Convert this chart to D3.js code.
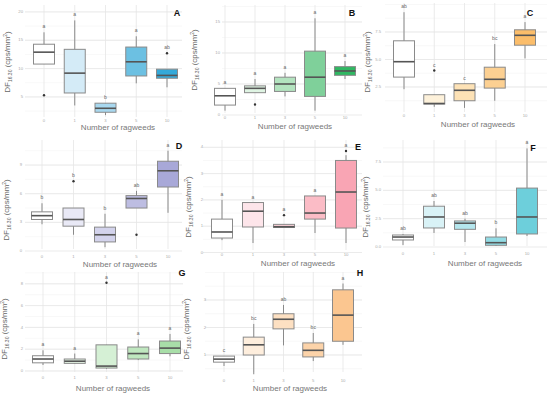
<!DOCTYPE html>
<html>
<head>
<meta charset="utf-8">
<script src="https://cdn.jsdelivr.net/npm/d3@7"></script>
<style>
  body { margin:0; background:#fff; }
  svg text { font-family: "Liberation Sans", Arial, sans-serif; }
</style>
</head>
<body>
<svg width="550" height="398"></svg>
<script>
// groups on x axis
const categories = ["0", "1", "3", "5", "10"]

// box stats per group: [lower whisker, q1, median, q3, upper whisker]
const statsA = [[10.8,10.8,12.9,14.3,16.4],[3.5,5.7,9.2,13.4,18.5],[1.8,2.3,3.0,3.9,3.9],[7.4,8.7,11.2,13.8,15.7],[6.7,8.3,8.8,9.9,9.9]]
const statsB = [[0.7,1.6,3.1,4.3,4.3],[3.6,3.6,4.3,4.7,5.8],[3.0,3.8,5.0,6.1,6.8],[0.7,3.0,6.1,10.3,15.6],[5.8,6.4,7.1,7.8,8.7]]
const statsC = [[2.3,3.4,4.8,6.7,9.3],[0.7,0.95,1.0,1.8,1.8],[0.6,1.25,2.2,2.8,2.8],[1.25,2.4,3.2,4.3,6.4],[5.1,6.3,7.2,7.7,8.4]]
const statsD = [[2.8,3.3,3.7,4.1,5.0],[1.7,2.6,3.3,4.5,4.5],[0.4,0.95,1.7,2.5,3.9],[4.5,4.5,5.5,5.8,6.3],[4.0,6.7,8.4,9.4,10.5]]
const statsE = [[0.47,0.55,0.78,1.27,2.0],[0.36,0.97,1.57,1.9,1.9],[0.95,0.95,0.98,1.07,1.07],[0.74,1.27,1.5,2.15,2.15],[0.36,0.93,2.3,3.5,3.7]]
const statsF = [[0.18,0.62,0.88,1.06,1.15],[1.24,1.68,2.65,3.6,4.06],[0.44,1.56,2.1,2.3,2.5],[0.1,0.15,0.38,0.88,1.65],[0.97,1.15,2.65,5.2,8.7]]
const statsG = [[0.55,0.75,1.1,1.4,1.9],[0.65,0.7,0.9,1.1,1.6],[0.2,0.27,0.45,2.4,2.4],[1.0,1.1,1.6,2.2,2.9],[1.35,1.6,2.1,2.75,3.4]]
const statsH = [[0.6,0.74,0.85,0.96,0.96],[0.3,1.0,1.37,1.65,2.13],[1.35,1.95,2.3,2.5,2.82],[0.78,0.93,1.17,1.44,1.8],[1.37,1.5,2.45,3.37,3.6]]

// outliers: [group index, value]
const outA = [[0,5.3],[4,12.7]]
const outB = [[1,1.7]]
const outC = [[1,4.0]]
const outD = [[1,7.3],[3,1.7]]
const outE = [[2,1.42],[4,3.86]]
const outF = []
const outG = [[2,8.1]]
const outH = []

// significance letters
const lettersA = ["a","a","b","a","ab"]
const lettersB = ["a","a","a","a","a"]
const lettersC = ["ab","c","c","bc","a"]
const lettersD = ["b","b","b","ab","a"]
const lettersE = ["a","a","a","a","a"]
const lettersF = ["ab","ab","ab","b","a"]
const lettersG = ["a","a","a","a","a"]
const lettersH = ["c","bc","ab","bc","a"]

// y tick values
const ticksA = [5,10,15,20]
const ticksB = [0,5,10,15]
const ticksC = [2.5,5.0,7.5]
const ticksD = [0,3,6,9]
const ticksE = [0,1,2,3,4]
const ticksF = [0,2.5,5.0,7.5]
const ticksG = [0,2,4,6,8]
const ticksH = [1,2,3]

const fillsA = ["#ffffff","#d4ebf7","#a8d8ef","#6cc0e2","#34a9d9"]
const fillsB = ["#ffffff","#dff4e3","#b3e3bf","#7fd09a","#2fb862"]
const fillsC = ["#ffffff","#fdf1da","#fde2b6","#fcd092","#fbbd6a"]
const fillsD = ["#ffffff","#e9e9f6","#d3d3ec","#bdbde2","#a8a8d8"]
const fillsE = ["#ffffff","#fde5ea","#fcd1d9","#fbbcc6","#f9a5b4"]
const fillsF = ["#ffffff","#d9f2f6","#b4e6ed","#92dbe4","#6dcfdb"]
const fillsG = ["#ffffff","#e6f6e6","#d5f0d5","#bfe7bf","#a8dea8"]
const fillsH = ["#ffffff","#feeedd","#fde0c2","#fcd3a9","#fbc690"]

const svg = d3.select("svg")

// panel layout (pixel geometry of each small plot)
const panels = [
  {tag:"A", stats:statsA, out:outA, letters:lettersA, ticks:ticksA, fills:fillsA,
   xr:[44,167], y0:125.3, k:5.67, gx:[25,182], gy:[5,117], tlx:23, xty:121, xt:[118,130], yt:[10,62], lab:[177,14], tstep:2.5},
  {tag:"B", stats:statsB, out:outB, letters:lettersB, ticks:ticksB, fills:fillsB,
   xr:[225,345], y0:115, k:6.2, gx:[222,362], gy:[5,113], tlx:220, xty:118, xt:[295,129], yt:[197,60], lab:[352,14], tstep:2.5},
  {tag:"C", stats:statsC, out:outC, letters:lettersC, ticks:ticksC, fills:fillsC,
   xr:[404,525], y0:114.5, k:11, gx:[385,547], gy:[3,112], tlx:381, xty:116, xt:[478,127], yt:[370,62], lab:[530,14], tstep:1.25},
  {tag:"D", stats:statsD, out:outD, letters:lettersD, ticks:ticksD, fills:fillsD,
   xr:[42,168], y0:251, k:9.55, gx:[25,182], gy:[140,249], tlx:22, xty:257, xt:[120,267], yt:[9,210], lab:[179,147], tstep:1.5},
  {tag:"E", stats:statsE, out:outE, letters:lettersE, ticks:ticksE, fills:fillsE,
   xr:[222,346], y0:252.5, k:26.3, gx:[203,362], gy:[140,250], tlx:203, xty:255, xt:[298,266], yt:[191,207], lab:[358,148], tstep:0.5},
  {tag:"F", stats:statsF, out:outF, letters:lettersF, ticks:ticksF, fills:fillsF,
   xr:[403,527], y0:247, k:11.33, gx:[383,547], gy:[140,246], tlx:381, xty:254, xt:[485,266], yt:[368,207], lab:[533,149], tstep:1.25},
  {tag:"G", stats:statsG, out:outG, letters:lettersG, ticks:ticksG, fills:fillsG,
   xr:[43,170], y0:371, k:10.9, gx:[25,183], gy:[272,372], tlx:23, xty:378, xt:[113,391], yt:[7,329], lab:[182,274], tstep:1},
  {tag:"H", stats:statsH, out:outH, letters:lettersH, ticks:ticksH, fills:fillsH,
   xr:[224,343], y0:382.5, k:27.5, gx:[205,362], gy:[272,372], tlx:206, xty:381, xt:[290,391], yt:[189,329], lab:[360,274], tstep:0.5}
]

const boxW = 21

panels.forEach(p => {
  const g = svg.append("g")
  const x = d3.scalePoint().domain(categories).range(p.xr)
  const y = d3.scaleLinear().domain([0, 1]).range([p.y0, p.y0 - p.k])

  // minor grid
  const yMin = y.invert(p.gy[1]), yMax = y.invert(p.gy[0])
  const minor = d3.range(Math.ceil(yMin / p.tstep) * p.tstep, yMax, p.tstep)
  g.selectAll(".minor").data(minor).enter().append("line")
    .attr("x1", p.gx[0]).attr("x2", p.gx[1])
    .attr("y1", d => y(d)).attr("y2", d => y(d))
    .attr("stroke", "#f3f3f3").attr("stroke-width", 0.6)

  // major grid
  g.selectAll(".hgrid").data(p.ticks).enter().append("line")
    .attr("x1", p.gx[0]).attr("x2", p.gx[1])
    .attr("y1", d => y(d)).attr("y2", d => y(d))
    .attr("stroke", "#e6e6e6").attr("stroke-width", 0.8)
  g.selectAll(".vgrid").data(categories).enter().append("line")
    .attr("x1", d => x(d)).attr("x2", d => x(d))
    .attr("y1", p.gy[0]).attr("y2", p.gy[1])
    .attr("stroke", "#e6e6e6").attr("stroke-width", 0.8)

  // tick labels
  g.selectAll(".ytl").data(p.ticks).enter().append("text")
    .attr("x", p.tlx).attr("y", d => y(d))
    .attr("text-anchor", "end").attr("dominant-baseline", "middle")
    .attr("font-size", "4.2px").attr("fill", "#aaa")
    .text(d => p.tstep === 1.25 ? d3.format(".1f")(d) : d)
  g.selectAll(".xtl").data(categories).enter().append("text")
    .attr("x", d => x(d)).attr("y", p.xty)
    .attr("text-anchor", "middle").attr("dominant-baseline", "middle")
    .attr("font-size", "4.2px").attr("fill", "#aaa")
    .text(d => d)

  // boxes
  const bx = g.selectAll(".box").data(p.stats).enter().append("g")
  bx.append("line")
    .attr("x1", (d, i) => x(categories[i])).attr("x2", (d, i) => x(categories[i]))
    .attr("y1", d => y(d[0])).attr("y2", d => y(d[4]))
    .attr("stroke", "#8a8a8a").attr("stroke-width", 1)
  bx.append("rect")
    .attr("x", (d, i) => x(categories[i]) - boxW / 2).attr("width", boxW)
    .attr("y", d => y(d[3])).attr("height", d => y(d[1]) - y(d[3]))
    .attr("fill", (d, i) => p.fills[i])
    .attr("stroke", "#8a8a8a").attr("stroke-width", 1)
  bx.append("line")
    .attr("x1", (d, i) => x(categories[i]) - boxW / 2).attr("x2", (d, i) => x(categories[i]) + boxW / 2)
    .attr("y1", d => y(d[2])).attr("y2", d => y(d[2]))
    .attr("stroke", "#555").attr("stroke-width", 1.6)

  // outliers
  g.selectAll(".out").data(p.out).enter().append("circle")
    .attr("cx", d => x(categories[d[0]])).attr("cy", d => y(d[1]))
    .attr("r", 1.2).attr("fill", "#333")

  // letters
  g.selectAll(".let").data(p.letters).enter().append("text")
    .attr("x", (d, i) => x(categories[i]))
    .attr("y", (d, i) => {
      const top = d3.max([p.stats[i][4]].concat(p.out.filter(o => o[0] === i).map(o => o[1])))
      return y(top) - 4
    })
    .attr("text-anchor", "middle")
    .attr("font-size", "5px").attr("fill", "#666")
    .text(d => d)

  // axis titles
  g.append("text")
    .attr("x", p.xt[0]).attr("y", p.xt[1])
    .attr("text-anchor", "middle").attr("font-size", "8px").attr("fill", "#777")
    .text("Number of ragweeds")
  const yt = g.append("text")
    .attr("transform", `translate(${p.yt[0]},${p.yt[1]}) rotate(-90)`)
    .attr("text-anchor", "middle").attr("font-size", "8px").attr("fill", "#666")
  yt.append("tspan").text("DF")
  yt.append("tspan").attr("font-size", "5px").attr("dy", 1.5).text("16.30")
  yt.append("tspan").attr("dy", -1.5).text(" (cps/mm")
  yt.append("tspan").attr("font-size", "5px").attr("dy", -3).text("2")
  yt.append("tspan").attr("dy", 3).text(")")

  // panel tag
  g.append("text")
    .attr("x", p.lab[0]).attr("y", p.lab[1])
    .attr("text-anchor", "middle").attr("dominant-baseline", "middle")
    .attr("font-size", "9px").attr("font-weight", "bold").attr("fill", "#111")
    .text(p.tag)
})
</script>
</body>
</html>
